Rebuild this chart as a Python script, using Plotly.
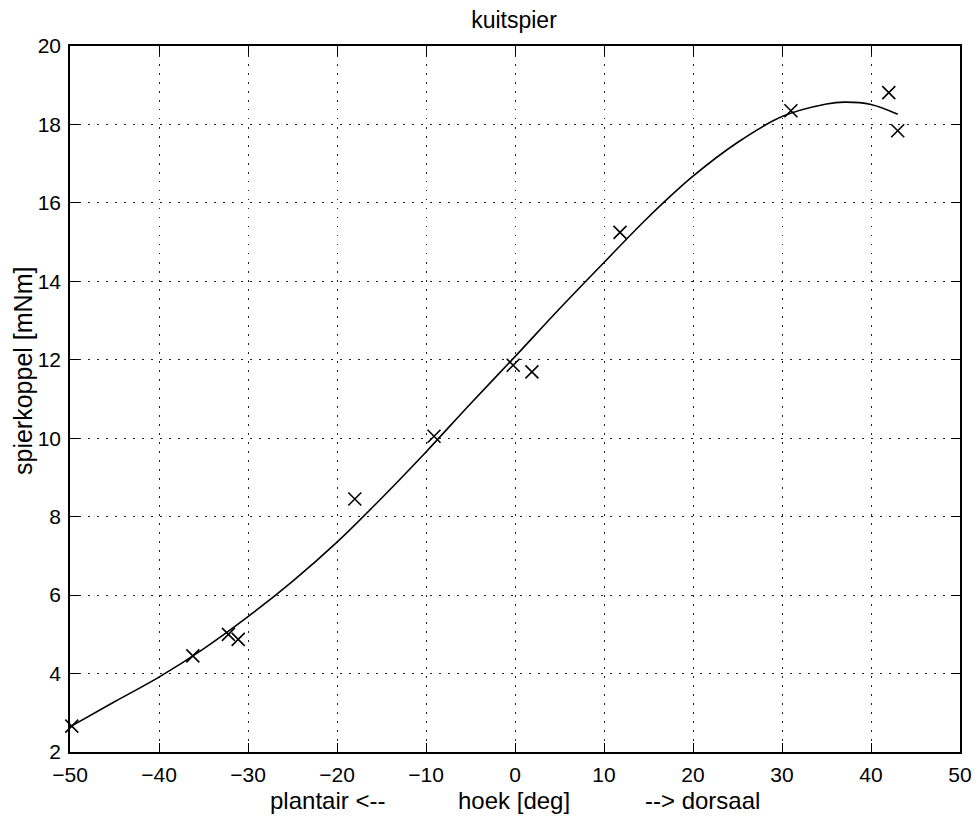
import plotly.graph_objects as go

# measured points (angle in deg, torque in mNm)
meas_x = [-49.8, -36.2, -32.2, -31.1, -18.0, -9.1, -0.2, 1.9, 11.8, 31.0, 42.0, 43.0]
meas_y = [2.66, 4.45, 5.00, 4.87, 8.45, 10.05, 11.86, 11.69, 15.25, 18.35, 18.81, 17.84]

# fitted curve
fit_x = [-50, -45, -40, -35, -30, -25, -20, -15, -10, -5, 0, 5, 10, 15, 20, 25, 30, 35, 37, 40, 43]
fit_y = [2.64, 3.28, 3.91, 4.63, 5.45, 6.35, 7.35, 8.47, 9.65, 10.88, 12.08, 13.30, 14.48, 15.64,
         16.68, 17.54, 18.20, 18.52, 18.57, 18.51, 18.26]

x_ticks = [-50, -40, -30, -20, -10, 0, 10, 20, 30, 40, 50]
y_ticks = [2, 4, 6, 8, 10, 12, 14, 16, 18, 20]

title_text = "kuitspier"
y_label = "spierkoppel [mNm]"
x_label_parts = ["plantair <--", "hoek [deg]", "--> dorsaal"]

FONT = "Liberation Sans, Arial, Helvetica, sans-serif"
FS = 21

W, H = 979, 817
L, T = 70, 46
R = W - 960
B = H - 752
PW, PH = W - L - R, H - T - B


def px_x(p):
    return (p - L) / PW


def px_y(p):
    return (H - B - p) / PH


fig = go.Figure()
fig.add_trace(go.Scatter(x=fit_x, y=fit_y, mode="lines",
                         line=dict(color="black", width=1.6, shape="spline", smoothing=1.0),
                         showlegend=False, hoverinfo="skip"))
fig.add_trace(go.Scatter(x=meas_x, y=meas_y, mode="markers",
                         marker=dict(symbol="x-thin", size=13, color="black",
                                     line=dict(color="black", width=1.6)),
                         showlegend=False, cliponaxis=False))

axis_common = dict(showline=True, linecolor="black", linewidth=1.5, mirror="allticks",
                   ticks="inside", ticklen=9, tickwidth=1.2, tickcolor="black",
                   showgrid=True, gridcolor="#222", gridwidth=1, griddash="1.5px,7.5px",
                   zeroline=False, automargin=False,
                   tickfont=dict(family=FONT, size=FS, color="black"))

fig.update_xaxes(range=[-50, 50], tickvals=x_ticks, ticklabelstandoff=3, **axis_common)
fig.update_yaxes(range=[2, 20], tickvals=y_ticks, ticklabelstandoff=3, **axis_common)

for txt, xp in zip(x_label_parts, [327, 514, 702]):
    fig.add_annotation(text=txt, x=px_x(xp), xref="paper", xanchor="center",
                       y=px_y(800), yref="paper", yanchor="middle",
                       showarrow=False, font=dict(family=FONT, size=24, color="black"))

fig.add_annotation(text=y_label, textangle=-90, x=px_x(23), xref="paper", xanchor="center",
                   y=px_y(371), yref="paper", yanchor="middle",
                   showarrow=False, font=dict(family=FONT, size=25, color="black"))

fig.update_layout(
    width=W, height=H,
    margin=dict(l=L, r=R, t=T, b=B, pad=0, autoexpand=False),
    paper_bgcolor="white", plot_bgcolor="white",
    title=dict(text=title_text, x=px_x(514), xref="paper", xanchor="center",
               y=1 - 20 / H, yanchor="middle", automargin=False,
               font=dict(family=FONT, size=23, color="black")),
    font=dict(family=FONT, color="black"),
)

fig.write_html("out.html", config={"displayModeBar": False},
               post_script="document.body.style.margin='0';document.body.style.overflow='hidden';")
